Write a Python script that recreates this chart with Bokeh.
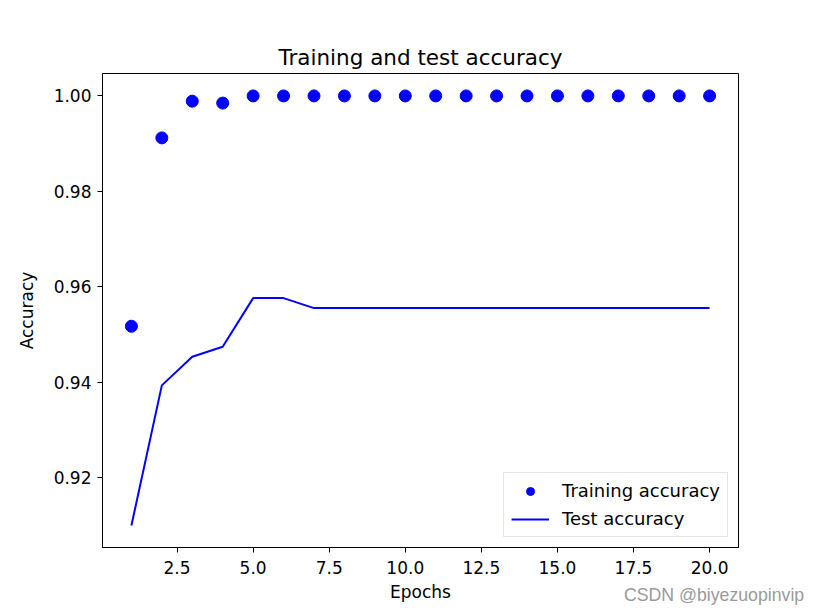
from bokeh.plotting import figure
from bokeh.models import FixedTicker, Range1d, Legend, LegendItem, NumeralTickFormatter, Div
from bokeh.layouts import column
from bokeh.embed import file_html
from bokeh.resources import INLINE

epochs = list(range(1, 21))
train_acc = [0.9517, 0.9912, 0.9989, 0.9985] + [1.0] * 16
test_acc = [0.9099, 0.9393, 0.9453, 0.9474, 0.9576, 0.9576] + [0.9555] * 14
x_ticks = [2.5, 5.0, 7.5, 10.0, 12.5, 15.0, 17.5, 20.0]
y_ticks = [0.92, 0.94, 0.96, 0.98, 1.00]
watermark = "CSDN @biyezuopinvip"

FONT = "DejaVu Sans"
BLUE = "#0000ff"

p = figure(width=819, height=614, output_backend="svg", toolbar_location=None,
           x_range=Range1d(0.05, 20.95), y_range=Range1d(0.9053, 1.0047),
           title="Training and test accuracy",
           min_border_left=102, min_border_right=81, min_border_top=73, min_border_bottom=67)
p.background_fill_color = "white"
p.border_fill_color = "white"
p.outline_line_color = "black"
p.outline_line_width = 1
p.grid.visible = False

p.title.align = "center"
p.title.text_font = FONT
p.title.text_font_size = "21.5px"
p.title.text_font_style = "normal"
p.title.text_color = "black"
p.title.standoff = 8

for ax in (p.xaxis[0], p.yaxis[0]):
    ax.major_label_text_font = FONT
    ax.major_label_text_font_size = "17px"
    ax.major_label_text_color = "black"
    ax.axis_label_text_font = FONT
    ax.axis_label_text_font_size = "17px"
    ax.axis_label_text_font_style = "normal"
    ax.axis_label_text_color = "black"
    ax.minor_tick_line_color = None
    ax.major_tick_out = 5
    ax.major_tick_in = 0
    ax.major_tick_line_color = "black"
    ax.axis_line_color = "black"

p.xaxis.ticker = FixedTicker(ticks=x_ticks)
p.yaxis.ticker = FixedTicker(ticks=y_ticks)
p.xaxis.formatter = NumeralTickFormatter(format="0.0")
p.yaxis.formatter = NumeralTickFormatter(format="0.00")
p.xaxis.axis_label = "Epochs"
p.yaxis.axis_label = "Accuracy"
p.xaxis.major_label_standoff = 8
p.yaxis.major_label_standoff = 6
p.xaxis.axis_label_standoff = 5
p.yaxis.axis_label_standoff = 14

r_train = p.scatter(epochs, train_acc, size=12, color=BLUE, line_color=BLUE)
r_test = p.line(epochs, test_acc, line_width=2, color=BLUE)

legend = Legend(items=[LegendItem(label="Training accuracy", renderers=[r_train]),
                       LegendItem(label="Test accuracy", renderers=[r_test])],
                location="bottom_right")
legend.label_text_font = FONT
legend.label_text_font_size = "18px"
legend.label_text_color = "black"
legend.border_line_color = "#cccccc"
legend.border_line_width = 1
legend.background_fill_alpha = 0.8
legend.glyph_width = 38
legend.glyph_height = 20
legend.label_standoff = 13
legend.spacing = 7
legend.padding = 7
legend.margin = 10
p.add_layout(legend)

wm = Div(text=watermark, width=190, height=22, margin=(-30, 0, 0, 624),
         styles={"color": "#9a9a9a", "font-family": "Liberation Sans, Arial, sans-serif",
                 "font-size": "17.7px", "line-height": "22px", "white-space": "nowrap"})

layout = column(p, wm, spacing=0)
open("out.html", "w").write(file_html(layout, INLINE))
